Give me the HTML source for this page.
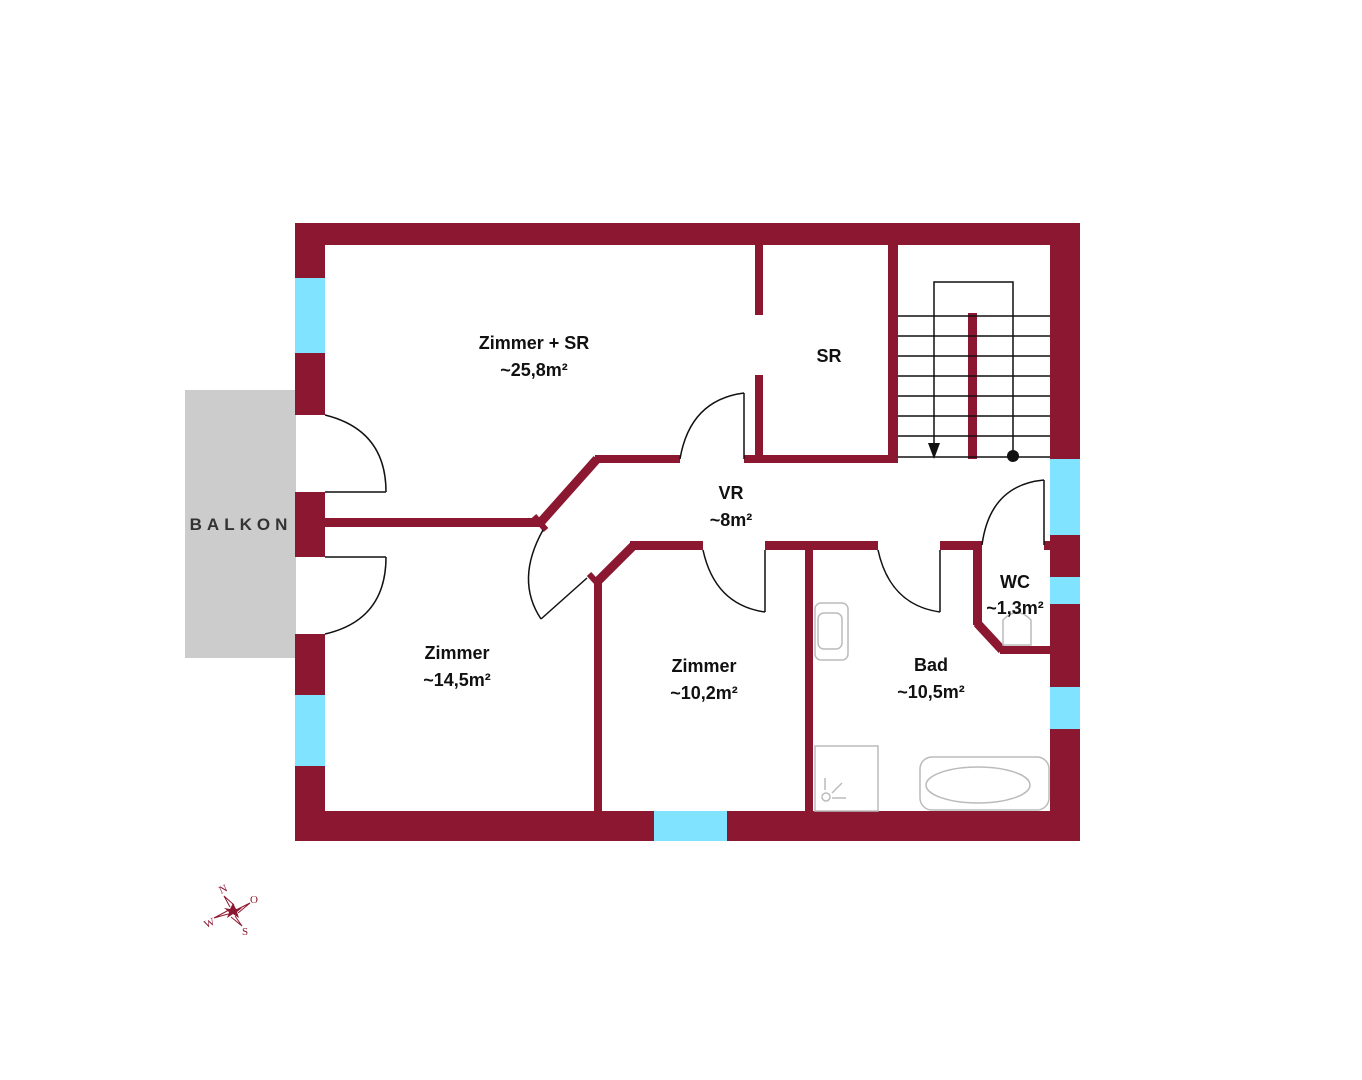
<!DOCTYPE html>
<html><head><meta charset="utf-8"><style>
html,body{margin:0;padding:0;background:#fff;}
svg{display:block}
text{font-family:"Liberation Sans",sans-serif;font-weight:bold;fill:#111;}
</style></head><body>
<svg width="1362" height="1080" viewBox="0 0 1362 1080" xmlns="http://www.w3.org/2000/svg">
<rect width="1362" height="1080" fill="#fff"/>
<rect x="185" y="390" width="111" height="268" fill="#cccccc"/>
<text x="241" y="530" font-size="17" text-anchor="middle" letter-spacing="5" style="fill:#333">BALKON</text>
<g fill="#8c1730">
<rect x="295" y="223" width="785" height="22"/>
<rect x="295" y="811" width="785" height="30"/>
<rect x="1050" y="223" width="30" height="236"/>
<rect x="1050" y="535" width="30" height="42"/>
<rect x="1044" y="541" width="8" height="9"/>
<rect x="1050" y="604" width="30" height="83"/>
<rect x="1050" y="729" width="30" height="112"/>
<rect x="295" y="223" width="30" height="55"/>
<rect x="295" y="353" width="30" height="62"/>
<rect x="295" y="492" width="30" height="65"/>
<rect x="295" y="634" width="30" height="61"/>
<rect x="295" y="766" width="30" height="75"/>
<rect x="325" y="518" width="215" height="9"/>
<rect x="755" y="245" width="8" height="70"/>
<rect x="755" y="375" width="8" height="88"/>
<rect x="888" y="245" width="10" height="218"/>
<rect x="744" y="455" width="154" height="8"/>
<rect x="595" y="455" width="85" height="8"/>
<rect x="968" y="313" width="9" height="146"/>
<rect x="630" y="541" width="73" height="9"/>
<rect x="765" y="541" width="113" height="9"/>
<rect x="940" y="541" width="42" height="9"/>
<rect x="594" y="578" width="8" height="233"/>
<rect x="805" y="541" width="8" height="270"/>
<rect x="973" y="541" width="9" height="84"/>
<rect x="1000" y="646" width="50" height="8"/>
</g>
<g stroke="#8c1730" stroke-width="9" fill="none">
<line x1="540" y1="523" x2="597" y2="459"/>
<line x1="634" y1="545" x2="597" y2="582"/>
<line x1="977" y1="623" x2="1002" y2="650"/>
<line x1="534" y1="516" x2="546" y2="530" stroke-width="6"/>
<line x1="589" y1="574" x2="600" y2="586" stroke-width="6"/>
</g>
<g fill="#80e3ff">
<rect x="295" y="278" width="30" height="75"/>
<rect x="295" y="695" width="30" height="71"/>
<rect x="654" y="811" width="73" height="30"/>
<rect x="1050" y="459" width="30" height="76"/>
<rect x="1050" y="577" width="30" height="27"/>
<rect x="1050" y="687" width="30" height="42"/>
</g>
<g stroke="#111" stroke-width="1.5" fill="none">
<line x1="898" y1="316" x2="1050" y2="316"/>
<line x1="898" y1="336" x2="1050" y2="336"/>
<line x1="898" y1="356" x2="1050" y2="356"/>
<line x1="898" y1="376" x2="1050" y2="376"/>
<line x1="898" y1="396" x2="1050" y2="396"/>
<line x1="898" y1="416" x2="1050" y2="416"/>
<line x1="898" y1="436" x2="1050" y2="436"/>
<line x1="898" y1="457" x2="1050" y2="457"/>
<polyline points="934,450 934,282 1013,282 1013,456"/>
<line x1="325" y1="492" x2="386" y2="492"/>
<path d="M325,415 Q386,430 386,492"/>
<line x1="325" y1="557" x2="386" y2="557"/>
<path d="M386,557 Q386,620 325,634"/>
<line x1="744" y1="393" x2="744" y2="459"/>
<path d="M680,459 Q690,400 744,393"/>
<line x1="541" y1="619" x2="587" y2="578"/>
<path d="M543,530 Q515,580 541,619"/>
<line x1="765" y1="550" x2="765" y2="612"/>
<path d="M703,550 Q715,605 765,612"/>
<line x1="940" y1="550" x2="940" y2="612"/>
<path d="M878,550 Q890,605 940,612"/>
<line x1="1044" y1="480" x2="1044" y2="545"/>
<path d="M982,545 Q990,485 1044,480"/>
</g>
<polygon points="928,443 940,443 934,459" fill="#111"/>
<circle cx="1013" cy="456" r="6" fill="#111"/>
<g stroke="#bbb" stroke-width="1.5" fill="none">
<rect x="815" y="603" width="33" height="57" rx="6"/>
<rect x="818" y="613" width="24" height="36" rx="6"/>
<rect x="815" y="746" width="63" height="65"/>
<circle cx="826" cy="797" r="4"/>
<line x1="825" y1="778" x2="825" y2="790"/>
<line x1="832" y1="793" x2="842" y2="783"/>
<line x1="832" y1="798" x2="846" y2="798"/>
<rect x="920" y="757" width="129" height="53" rx="12"/>
<ellipse cx="978" cy="785" rx="52" ry="18"/>
<path d="M1003,645 L1003,620 Q1017,605 1031,620 L1031,645 Z"/>
</g>
<g font-size="18" text-anchor="middle">
<text x="534" y="349">Zimmer + SR</text>
<text x="534" y="376">~25,8m²</text>
<text x="829" y="362">SR</text>
<text x="731" y="499">VR</text>
<text x="731" y="526">~8m²</text>
<text x="457" y="659">Zimmer</text>
<text x="457" y="686">~14,5m²</text>
<text x="704" y="672">Zimmer</text>
<text x="704" y="699">~10,2m²</text>
<text x="931" y="671">Bad</text>
<text x="931" y="698">~10,5m²</text>
<text x="1015" y="588">WC</text>
<text x="1015" y="614">~1,3m²</text>
</g>
<g fill="#8c1730">
<polygon points="233,903 236,909 242,908 237,912 239,918 233,914 227,918 229,912 224,908 230,909"/>
<g stroke="#8c1730" stroke-width="1" fill="none">
<path d="M230,907 L224,896 L234,905"/><path d="M238,909 L250,903 L238,913"/>
<path d="M235,916 L242,926 L231,917"/><path d="M228,914 L214,918 L229,910"/>
</g>
<text x="221" y="894" font-size="11" style="fill:#8c1730;font-weight:normal;font-family:'Liberation Serif',serif" transform="rotate(-25 221 894)">N</text>
<text x="250" y="903" font-size="11" style="fill:#8c1730;font-weight:normal;font-family:'Liberation Serif',serif">O</text>
<text x="242" y="935" font-size="11" style="fill:#8c1730;font-weight:normal;font-family:'Liberation Serif',serif">S</text>
<text x="204" y="927" font-size="11" style="fill:#8c1730;font-weight:normal;font-family:'Liberation Serif',serif" transform="rotate(-25 208 923)">W</text>
</g>
</svg>
</body></html>
